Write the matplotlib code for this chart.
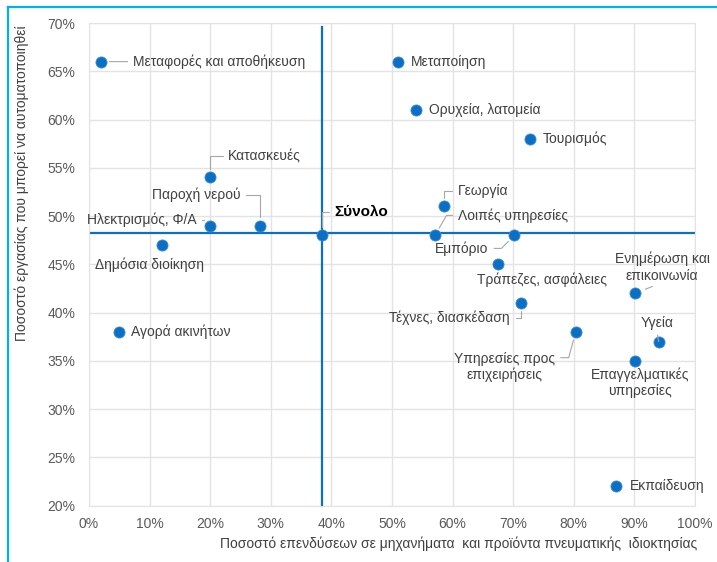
"""Scatter of automation potential vs. investment share by sector (Greek labels)."""

import matplotlib

matplotlib.use("Agg")
import matplotlib.pyplot as plt
from matplotlib.lines import Line2D
from matplotlib.ticker import FuncFormatter

plt.rcParams["font.family"] = ["Liberation Sans", "DejaVu Sans"]

# Sector data: x = share of investment in machinery & IP (%), y = share of work automatable (%)
sectors = [
    "Μεταφορές και αποθήκευση", "Μεταποίηση", "Ορυχεία, λατομεία", "Τουρισμός",
    "Κατασκευές", "Παροχή νερού", "Ηλεκτρισμός, Φ/Α", "Δημόσια διοίκηση",
    "Σύνολο", "Γεωργία", "Λοιπές υπηρεσίες", "Εμπόριο", "Τράπεζες, ασφάλειες",
    "Ενημέρωση και\nεπικοινωνία", "Τέχνες, διασκέδαση", "Υπηρεσίες προς\nεπιχειρήσεις",
    "Υγεία", "Επαγγελματικές\nυπηρεσίες", "Εκπαίδευση", "Αγορά ακινήτων",
]
invest = [2, 51, 54, 72.7, 20, 28.3, 20, 12, 38.4, 58.5, 57.1, 70.2, 67.5,
          90.1, 71.3, 80.3, 94, 90.1, 87, 5]
automat = [66, 66, 61, 58, 54, 49, 49, 47, 48, 51, 48, 48, 45,
           42, 41, 38, 37, 35, 22, 38]

# Reference lines (total economy)
total_x = 38.4
total_y = 48.2

# Label placement: offset in pixels (dx right, dy up), alignment, leader style
label_style = {
    "Μεταφορές και αποθήκευση": (32, 0, "left", "straight"),
    "Μεταποίηση": (13, 0, "left", None),
    "Ορυχεία, λατομεία": (13, 0, "left", None),
    "Τουρισμός": (13, 0, "left", None),
    "Κατασκευές": (18, 21, "left", "angle,angleA=0,angleB=90"),
    "Παροχή νερού": (-20, 31, "right", "angle,angleA=0,angleB=90"),
    "Ηλεκτρισμός, Φ/Α": (-14, 6, "right", "angle,angleA=0,angleB=90"),
    "Δημόσια διοίκηση": (-12, -20, "center", None),
    "Σύνολο": (13, 23, "left", "angle,angleA=0,angleB=90"),
    "Γεωργία": (14, 15, "left", "angle,angleA=0,angleB=90"),
    "Λοιπές υπηρεσίες": (23, 20, "left", "angle,angleA=0,angleB=60"),
    "Εμπόριο": (-26, -13, "right", "angle,angleA=0,angleB=45"),
    "Τράπεζες, ασφάλειες": (44, -15, "center", None),
    "Ενημέρωση και\nεπικοινωνία": (27, 26, "center", "straight_bottom"),
    "Τέχνες, διασκέδαση": (-11, -15, "right", "angle,angleA=0,angleB=90"),
    "Υπηρεσίες προς\nεπιχειρήσεις": (-71, -35, "center", "angle,angleA=0,angleB=75"),
    "Υγεία": (-2, 19, "center", "straight_bottom"),
    "Επαγγελματικές\nυπηρεσίες": (5, -22, "center", None),
    "Εκπαίδευση": (14, 0, "left", None),
    "Αγορά ακινήτων": (12, 0, "left", None),
}

W, H = 717, 562
fig = plt.figure(figsize=(W / 100, H / 100), dpi=100)
ax = fig.add_axes([89 / W, 1 - 505.7 / H, (695 - 89) / W, (505.7 - 23) / H])

ax.set_xlim(0, 100)
ax.set_ylim(20, 70)
ax.set_xticks(range(0, 101, 10))
ax.set_yticks(range(20, 71, 5))
pct = FuncFormatter(lambda v, _: f"{v:.0f}%")
ax.xaxis.set_major_formatter(pct)
ax.yaxis.set_major_formatter(pct)
ax.tick_params(length=0, labelsize=10, labelcolor="#595959")
ax.tick_params(axis="x", pad=8)
ax.tick_params(axis="y", pad=10)
ax.grid(True, color="#E3E3E3", lw=1)
ax.set_axisbelow(True)
for s in ax.spines.values():
    s.set_color("#E3E3E3")

blue = "#0B6FC4"
ax.axhline(total_y, color=blue, lw=1.6, zorder=2)
ax.plot([total_x, total_x], [20, 69.6], color=blue, lw=1.6, zorder=2, clip_on=False)

ax.scatter(invest, automat, s=64, color=blue, edgecolor="#3C8DD8", lw=0.6, zorder=4)

for name, x, y in zip(sectors, invest, automat):
    dx, dy, ha, leader = label_style[name]
    bold = name == "Σύνολο"
    kw = {}
    if leader is not None:
        shrink_b = 6
        if leader == "straight":
            cs, relpos = "arc3", (0, 0.5)
        elif leader == "straight_bottom":
            cs, relpos = "arc3", (0.5, 0)
            shrink_b = 8
        else:
            cs = leader
            relpos = (1, 0.5) if ha == "right" else (0, 0.5)
            if ha == "center":
                relpos = (1, 0.8)
        kw["arrowprops"] = dict(arrowstyle="-", color="#A6A6A6", lw=0.8,
                                shrinkA=2, shrinkB=shrink_b, connectionstyle=cs,
                                relpos=relpos)
    ax.annotate(name, (x, y), xytext=(dx, dy), textcoords="offset pixels",
                ha=ha, va="center", multialignment="center",
                fontsize=11 if bold else 10,
                fontweight="bold" if bold else "normal",
                color="#000000" if bold else "#404040", zorder=5, **kw)

fig.text(22 / W, 1 - 183 / H, "Ποσοστό εργασίας που μπορεί να αυτοματοποιηθεί",
         rotation=90, ha="center", va="center", fontsize=10, color="#404040")
fig.text(459 / W, 1 - 544 / H,
         "Ποσοστό επενδύσεων σε μηχανήματα  και προϊόντα πνευματικής  ιδιοκτησίας",
         ha="center", va="center", fontsize=10, color="#404040")

# Light-blue frame on the top and left edges
fig.add_artist(Line2D([7.5 / W, 7.5 / W], [0, 1 - 6.5 / H], color="#00B0F0", lw=1.6))
fig.add_artist(Line2D([7.5 / W, 1], [1 - 6.5 / H, 1 - 6.5 / H], color="#00B0F0", lw=1.6))

fig.savefig("out.png", dpi=100)
